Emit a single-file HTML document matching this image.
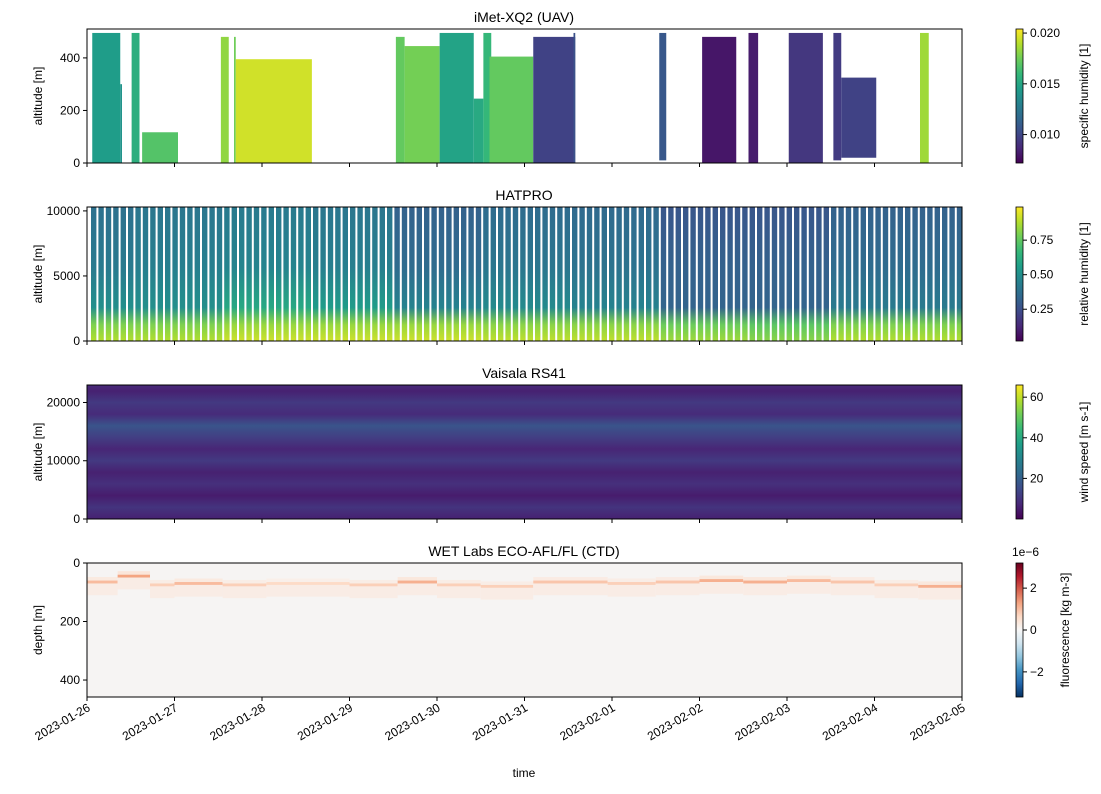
<!DOCTYPE html>
<html><head><meta charset="utf-8"><style>
body{margin:0;background:#fff;font-family:"Liberation Sans",sans-serif;}
svg text{font-family:"Liberation Sans",sans-serif;fill:#000}
</style></head><body>
<svg id="s" width="1101" height="789" xmlns="http://www.w3.org/2000/svg"></svg>
<script>
// ---- data ----
const dateLabels=["2023-01-26","2023-01-27","2023-01-28","2023-01-29","2023-01-30","2023-01-31","2023-02-01","2023-02-02","2023-02-03","2023-02-04","2023-02-05"];
const uavStart=[0.06,0.38,0.51,0.63,1.53,1.68,1.70,3.53,3.63,4.03,4.42,4.53,4.60,5.10,5.56,6.54,7.03,7.56,8.02,8.53,8.62,9.52];
const uavEnd  =[0.38,0.40,0.60,1.04,1.62,1.70,2.57,3.63,4.03,4.42,4.53,4.62,5.10,5.58,5.58,6.62,7.42,7.67,8.41,8.62,9.02,9.62];
const uavBot  =[0,0,0,0,0,0,0,0,0,0,0,0,0,0,0,10,0,0,0,10,20,0];
const uavTop  =[495,300,495,117,480,480,395,480,445,495,245,495,405,480,495,495,480,495,495,495,325,495];
const uavQ    =[0.0145,0.014,0.0155,0.0168,0.0182,0.0175,0.0195,0.0172,0.0176,0.0148,0.0152,0.016,0.0172,0.0098,0.0105,0.0108,0.0080,0.0082,0.0093,0.0095,0.0098,0.0185];
const hpDays=[0,1,2,3,4,5,6,7,8,9,10];
const hpSurf=[0.88,0.88,0.92,0.92,0.92,0.9,0.9,0.85,0.82,0.88,0.88];
const hpMid =[0.5,0.5,0.6,0.55,0.45,0.48,0.45,0.33,0.33,0.42,0.42];
const hpTop =[0.38,0.4,0.42,0.4,0.32,0.36,0.35,0.28,0.28,0.32,0.32];
const wsAlt=[0,2,4,6,8,10,12,14,16,18,20,22,23];
const wsVal=[6,10,5,9,6,11,7,12,17,8,11,6,8];
const ctdStart=[0,0.35,0.72,1.0,1.55,2.05,3.0,3.55,4.0,4.5,5.1,5.95,6.5,7.0,7.5,8.0,8.5,9.0,9.5];
const ctdEnd  =[0.35,0.72,1.0,1.55,2.05,3.0,3.55,4.0,4.5,5.1,5.95,6.5,7.0,7.5,8.0,8.5,9.0,9.5,10];
const ctdDepth=[60,40,70,65,70,65,70,60,70,75,60,65,60,55,60,55,60,70,75];
const ctdPeak =[0.8,1.0,0.6,0.8,0.6,0.5,0.6,0.9,0.6,0.6,0.7,0.6,0.7,0.9,0.9,0.8,0.7,0.6,0.9];

const S=document.getElementById('s');const NS="http://www.w3.org/2000/svg";
function el(t,a,p){const e=document.createElementNS(NS,t);for(const k in a)e.setAttribute(k,a[k]);(p||S).appendChild(e);return e;}
const X0=87,X1=962;const xs=d=>X0+d*(X1-X0)/10;
const vir=[[68,1,84],[72,40,120],[62,74,137],[49,104,142],[38,130,142],[31,158,137],[53,183,121],[109,205,89],[180,222,44],[253,231,37]];
function cm(stops,t){t=Math.max(0,Math.min(1,t));const n=stops.length-1,i=Math.min(n-1,Math.floor(t*n)),f=t*n-i;const a=stops[i],b=stops[i+1];return `rgb(${Math.round(a[0]+(b[0]-a[0])*f)},${Math.round(a[1]+(b[1]-a[1])*f)},${Math.round(a[2]+(b[2]-a[2])*f)})`;}
const rdbu=[[5,48,97],[33,102,172],[67,147,195],[146,197,222],[209,229,240],[247,247,247],[253,219,199],[244,165,130],[214,96,77],[178,24,43],[103,0,31]];
const panels=[{y0:29,y1:163},{y0:207,y1:341},{y0:385,y1:519},{y0:563,y1:697}];
function clip(i){const c=el('clipPath',{id:'c'+i});el('rect',{x:X0,y:panels[i].y0,width:X1-X0,height:panels[i].y1-panels[i].y0},c);return 'url(#c'+i+')';}
function txt(x,y,s,a,p){const t=el('text',Object.assign({x,y,'font-size':12},a||{}),p);t.textContent=s;return t;}

// Panel 1
{const g=el('g',{'clip-path':clip(0)});
const ys=v=>163-v*(134/510);
for(let i=0;i<uavStart.length;i++){const r=el('rect',{x:xs(uavStart[i]),y:ys(uavTop[i]),width:xs(uavEnd[i])-xs(uavStart[i]),height:ys(uavBot[i])-ys(uavTop[i]),fill:cm(vir,(uavQ[i]-0.0072)/0.0132)},g);
}
[[0,"0"],[200,"200"],[400,"400"]].forEach(([v,l])=>{el('line',{x1:X0-4,x2:X0,y1:ys(v),y2:ys(v),stroke:'#000'});txt(X0-7,ys(v)+4,l,{'text-anchor':'end'});});}
// Panel 2
{const g=el('g',{'clip-path':clip(1)});
const ys=v=>341-v*(134/10300);
const defs=el('defs',{});
for(let c=0;c<hpDays.length;c++){const lg=el('linearGradient',{id:'hg'+c,x1:0,y1:1,x2:0,y2:0},defs);
[[0,hpSurf[c]],[0.12,hpSurf[c]-0.08],[0.25,hpMid[c]],[0.55,hpTop[c]+0.04],[1,hpTop[c]]].forEach(([o,v])=>el('stop',{offset:o,'stop-color':cm(vir,(v-0.02)/0.97)},lg));}
const step=7.4;for(let x=X0+4;x<X1;x+=step){const d=(x-X0)/87.5;const ci=Math.min(10,Math.round(d));
const r=el('rect',{x:x,y:ys(10300),width:step-2,height:ys(0)-ys(10300),fill:`url(#hg${ci})`},g);
}
[[0,"0"],[5000,"5000"],[10000,"10000"]].forEach(([v,l])=>{el('line',{x1:X0-4,x2:X0,y1:ys(v),y2:ys(v),stroke:'#000'});txt(X0-7,ys(v)+4,l,{'text-anchor':'end'});});}
// Panel 3
{const g=el('g',{'clip-path':clip(2)});
const ys=v=>519-v*(134/23000);
const defs=el('defs',{});const lg=el('linearGradient',{id:'wg',x1:0,y1:1,x2:0,y2:0},defs);
for(let i=0;i<wsAlt.length;i++)el('stop',{offset:wsAlt[i]/23,'stop-color':cm(vir,wsVal[i]/66)},lg);
const r=el('rect',{x:X0,y:385,width:X1-X0,height:134,fill:'url(#wg)'},g);
[[0,"0"],[10000,"10000"],[20000,"20000"]].forEach(([v,l])=>{el('line',{x1:X0-4,x2:X0,y1:ys(v),y2:ys(v),stroke:'#000'});txt(X0-7,ys(v)+4,l,{'text-anchor':'end'});});}
// Panel 4
{const g=el('g',{'clip-path':clip(3)});
const ys=v=>563+v*(134/458);
el('rect',{x:X0,y:563,width:X1-X0,height:134,fill:'#f6f4f3'},g);
for(let i=0;i<ctdStart.length;i++){const x=xs(ctdStart[i]),w=xs(ctdEnd[i])-x;
el('rect',{x,y:ys(ctdDepth[i]-12),width:w,height:ys(ctdDepth[i])-ys(ctdDepth[i]-12),fill:cm(rdbu,0.5+ctdPeak[i]*0.06)},g);
const r=el('rect',{x,y:ys(ctdDepth[i]),width:w,height:ys(ctdDepth[i]+10)-ys(ctdDepth[i]),fill:cm(rdbu,0.5+ctdPeak[i]*0.2)},g);

el('rect',{x,y:ys(ctdDepth[i]+10),width:w,height:ys(ctdDepth[i]+50)-ys(ctdDepth[i]+10),fill:'#f9ece5'},g);}
[[0,"0"],[200,"200"],[400,"400"]].forEach(([v,l])=>{el('line',{x1:X0-4,x2:X0,y1:ys(v),y2:ys(v),stroke:'#000'});txt(X0-7,ys(v)+4,l,{'text-anchor':'end'});});}
const titles=["iMet-XQ2 (UAV)","HATPRO","Vaisala RS41","WET Labs ECO-AFL/FL (CTD)"];
const ylabs=["altitude [m]","altitude [m]","altitude [m]","depth [m]"];
panels.forEach((p,i)=>{el('rect',{x:X0,y:p.y0,width:X1-X0,height:p.y1-p.y0,fill:'none',stroke:'#000','stroke-width':1});
const t=txt(524,p.y0-7,titles[i],{'text-anchor':'middle','font-size':14});
const yl=txt(0,0,ylabs[i],{'text-anchor':'middle',transform:`translate(42,${(p.y0+p.y1)/2}) rotate(-90)`});
for(let d=0;d<=10;d++)el('line',{x1:xs(d),x2:xs(d),y1:p.y1,y2:p.y1+4,stroke:'#000'});});
dateLabels.forEach((l,d)=>{const t=txt(0,0,l,{'text-anchor':'end',transform:`translate(${xs(d)+4},${710}) rotate(-30)`});});
const xt=txt(524,777,"time",{'text-anchor':'middle'});
const cbs=[{st:vir,min:0.0072,max:0.0204,ticks:[[0.010,"0.010"],[0.015,"0.015"],[0.020,"0.020"]],lab:"specific humidity [1]"},
{st:vir,min:0.02,max:0.99,ticks:[[0.25,"0.25"],[0.5,"0.50"],[0.75,"0.75"]],lab:"relative humidity [1]"},
{st:vir,min:0,max:66,ticks:[[20,"20"],[40,"40"],[60,"60"]],lab:"wind speed [m s-1]"},
{st:rdbu,min:-3.2,max:3.2,ticks:[[2,"2"],[0,"0"],[-2,"−2"]],lab:"fluorescence [kg m-3]"}];
const defs=el('defs',{});
cbs.forEach((c,i)=>{const p=panels[i];const lg=el('linearGradient',{id:'cb'+i,x1:0,y1:1,x2:0,y2:0},defs);
c.st.forEach((s,j)=>el('stop',{offset:j/(c.st.length-1),'stop-color':`rgb(${s})`},lg));
const r=el('rect',{x:1016,y:p.y0,width:7,height:p.y1-p.y0,fill:`url(#cb${i})`,stroke:'#000','stroke-width':0.8});
const ys=v=>p.y1-(v-c.min)/(c.max-c.min)*(p.y1-p.y0);
c.ticks.forEach(([v,l])=>{el('line',{x1:1023,x2:1027,y1:ys(v),y2:ys(v),stroke:'#000'});txt(1030,ys(v)+4,l);});
const t=txt(0,0,c.lab,{'text-anchor':'middle',transform:`translate(${i==3?1069:1088},${(p.y0+p.y1)/2}) rotate(-90)`});});
txt(1012,556,"1e−6");
</script>
</body></html>
